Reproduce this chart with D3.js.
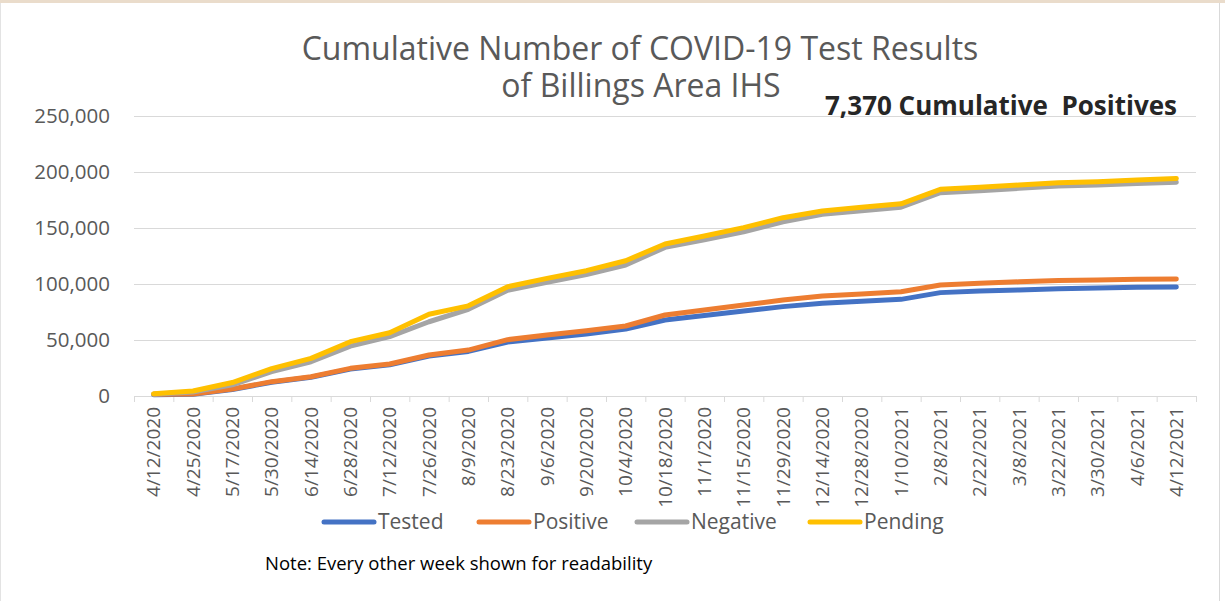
<!DOCTYPE html>
<html>
<head>
<meta charset="utf-8">
<script src="https://cdn.jsdelivr.net/npm/d3@7"></script>
<style>
  html, body { margin: 0; padding: 0; background: #fff; overflow: hidden; }
  svg { display: block; font-family: "Open Sans", sans-serif; }
</style>
</head>
<body>
<div id="chart"></div>
<script>
// Dates (every other week)
const dates = ['4/12/2020', '4/25/2020', '5/17/2020', '5/30/2020', '6/14/2020', '6/28/2020',
    '7/12/2020', '7/26/2020', '8/9/2020', '8/23/2020', '9/6/2020', '9/20/2020', '10/4/2020',
    '10/18/2020', '11/1/2020', '11/15/2020', '11/29/2020', '12/14/2020', '12/28/2020',
    '1/10/2021', '2/8/2021', '2/22/2021', '3/8/2021', '3/22/2021', '3/30/2021', '4/6/2021', '4/12/2021'];

// Valeurs cumulées
const tested = [1200, 1500, 5800, 12300, 16700, 24000, 27800, 35600, 39800, 48200, 51800, 55300, 59800,
    67900, 71800, 75800, 79800, 82800, 84500, 86300, 92300, 93800, 94600, 95800, 96400, 97000, 97300];
const positive = [1500, 1800, 6200, 12800, 17200, 24700, 28600, 36600, 41000, 50300, 54500, 58300, 62500,
    72300, 76800, 81200, 85700, 89300, 91000, 93100, 99100, 100600, 102000, 103200, 103600, 104200, 104500];
const negative = [1500, 3500, 10000, 21700, 30600, 44500, 53000, 66300, 77400, 94400, 101500, 108500, 117000,
    132700, 139500, 146500, 155500, 162200, 165500, 168500, 181500, 183300, 185400, 187400, 188300, 189800, 190800];
const pending = [2000, 4500, 12000, 24500, 33600, 48500, 56500, 73000, 80500, 97600, 105000, 111900, 120800,
    135700, 142900, 150300, 159200, 165200, 168500, 171600, 184500, 186300, 188400, 190400, 191300, 192900, 194300];

const seriesNames = ['Tested', 'Positive', 'Negative', 'Pending'];
const seriesColors = ['#4472c4', '#ed7d31', '#a5a5a5', '#ffc000'];
const yTicks = [0, 50000, 100000, 150000, 200000, 250000];

const width = 1225, height = 601;
const margin = { top: 116, right: 29, bottom: 205, left: 134 };
const innerWidth = width - margin.left - margin.right;
const innerHeight = height - margin.top - margin.bottom;

const svg = d3.select('#chart').append('svg')
    .attr('width', width)
    .attr('height', height);

// Cadre
svg.append('rect').attr('x', 0).attr('y', 0).attr('width', width).attr('height', 3).attr('fill', '#eadccb');
svg.append('line').attr('x1', 0.5).attr('x2', 0.5).attr('y1', 3).attr('y2', height).attr('stroke', '#e3e3e3');
svg.append('line').attr('x1', 1219.5).attr('x2', 1219.5).attr('y1', 3).attr('y2', height).attr('stroke', '#d9d9d9');

const g = svg.append('g').attr('transform', `translate(${margin.left},${margin.top})`);

const xScale = d3.scaleBand().domain(dates).range([0, innerWidth]);
const yScale = d3.scaleLinear().domain([0, 250000]).range([innerHeight, 0]);

// Grille
g.append('g')
    .call(d3.axisLeft(yScale).tickValues(yTicks).tickSize(-innerWidth).tickFormat(''))
    .call(ax => ax.select('.domain').remove())
    .call(ax => ax.selectAll('line').attr('stroke', '#d9d9d9'));

// Étiquettes Y
const fmt = d3.format(',');
g.append('g')
    .selectAll('text')
    .data(yTicks)
    .enter()
    .append('text')
    .attr('x', -24)
    .attr('y', d => yScale(d))
    .attr('dy', '0.35em')
    .attr('text-anchor', 'end')
    .style('fill', '#595959')
    .style('font-size', '20.5px')
    .text(d => fmt(d));

// Axe X
g.append('line')
    .attr('x1', 0).attr('x2', innerWidth)
    .attr('y1', innerHeight + 0.5).attr('y2', innerHeight + 0.5)
    .attr('stroke', '#d9d9d9');

g.append('g')
    .selectAll('text')
    .data(dates)
    .enter()
    .append('text')
    .attr('transform', d => `translate(${xScale(d) + xScale.bandwidth() / 2},${innerHeight + 11}) rotate(-90)`)
    .attr('dy', '0.35em')
    .attr('text-anchor', 'end')
    .style('fill', '#595959')
    .style('font-size', '19px')
    .text(d => d);

// Petites graduations entre les catégories
g.append('g')
    .selectAll('line')
    .data(dates.concat(['end']))
    .enter()
    .append('line')
    .attr('x1', (d, i) => i * xScale.step() + 0.5)
    .attr('x2', (d, i) => i * xScale.step() + 0.5)
    .attr('y1', innerHeight)
    .attr('y2', innerHeight + 6)
    .attr('stroke', '#d9d9d9');

// Lignes
const allSeries = [tested, positive, negative, pending];
const line = d3.line()
    .x((d, i) => xScale(dates[i]) + xScale.bandwidth() / 2)
    .y(d => yScale(d));

allSeries.forEach((values, k) => {
    g.append('path')
        .datum(values)
        .attr('fill', 'none')
        .attr('stroke', seriesColors[k])
        .attr('stroke-width', 5)
        .attr('stroke-linecap', 'round')
        .attr('stroke-linejoin', 'round')
        .attr('d', line);
});

// Titre
svg.append('text')
    .attr('x', 640).attr('y', 60)
    .attr('text-anchor', 'middle')
    .style('fill', '#595959')
    .style('font-size', '32px')
    .text('Cumulative Number of COVID-19 Test Results');
svg.append('text')
    .attr('x', 641).attr('y', 97)
    .attr('text-anchor', 'middle')
    .style('fill', '#595959')
    .style('font-size', '32px')
    .text('of Billings Area IHS');

svg.append('text')
    .attr('x', 1177).attr('y', 115)
    .attr('text-anchor', 'end')
    .style('fill', '#262626')
    .style('font-size', '26px')
    .style('font-weight', 'bold')
    .style('white-space', 'pre')
    .text('7,370 Cumulative  Positives');

// Légende
const legendX = [322, 477, 635, 808];
const legend = svg.append('g').attr('transform', 'translate(0,522)');
seriesNames.forEach((name, k) => {
    legend.append('line')
        .attr('x1', legendX[k] + 2).attr('x2', legendX[k] + 52)
        .attr('y1', 0).attr('y2', 0)
        .attr('stroke', seriesColors[k])
        .attr('stroke-width', 5)
        .attr('stroke-linecap', 'round');
    legend.append('text')
        .attr('x', legendX[k] + 56)
        .attr('y', 0)
        .attr('dy', '0.35em')
        .style('fill', '#595959')
        .style('font-size', '21px')
        .text(name);
});

// Note
svg.append('text')
    .attr('x', 265).attr('y', 570)
    .style('fill', '#000')
    .style('font-size', '18.5px')
    .text('Note: Every other week shown for readability');
</script>
</body>
</html>
